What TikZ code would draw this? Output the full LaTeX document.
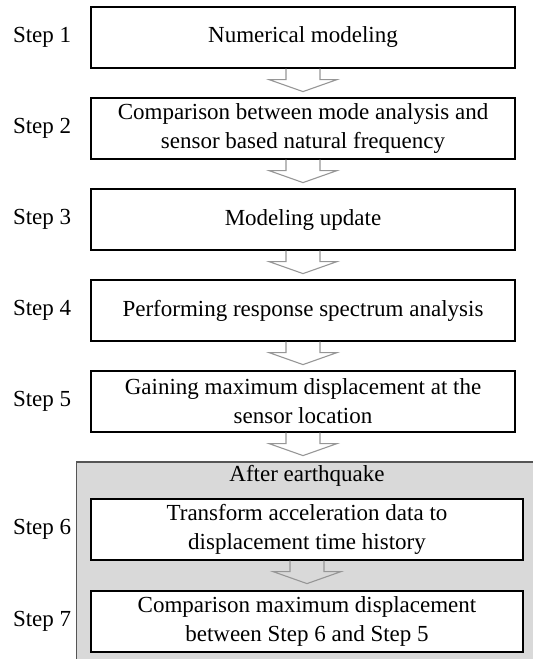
\documentclass[tikz,border=0pt]{standalone}
\usepackage{fontspec}
\setmainfont{Liberation Serif}
\usepackage{tikz}
\usetikzlibrary{positioning,calc}
\definecolor{zonegray}{RGB}{217,217,217}
\definecolor{zoneline}{RGB}{85,85,85}
\definecolor{arrowgray}{RGB}{150,150,150}

% hollow block arrow below a box
\newcommand{\stepArrow}[2]{%
  \draw[hollow] ($(#1.south)+(-17pt,0)$) -- ++(0,-11pt) -- ++(-17pt,0)
    -- ($(#1.south)!23pt!(#1.south|-#2.north)$)
    -- ($(#1.south)+(34pt,-11pt)$) -- ++(-17pt,0) -- ++(0,11pt);}

\begin{document}
\begin{tikzpicture}[
    font=\fontsize{23}{29}\selectfont,
    stepbox/.style={rectangle, draw, line width=1.2pt, fill=white, minimum width=424pt, minimum height=61pt, align=center, inner sep=1pt},
    widebox/.style={stepbox, minimum width=432pt},
    steplabel/.style={inner sep=0pt, anchor=east},
    hollow/.style={draw=arrowgray, line width=1.1pt, line join=miter}
  ]
    \useasboundingbox (0,0) rectangle (533pt,-659pt);

    % after earthquake zone
    \coordinate (zoneNW) at (76.5pt,-462pt);
    \coordinate (zoneSE) at (560pt,-680pt);
    \draw[fill=zonegray, draw=zoneline, line width=1.5pt] (zoneNW) rectangle (zoneSE);

    \node[stepbox] (box1) at (303pt,-37.5pt) {Numerical modeling};
    \node[stepbox, below=28.8pt of box1] (box2) {Comparison between mode analysis and\\sensor based natural frequency};
    \node[stepbox, below=28.8pt of box2] (box3) {Modeling update};
    \node[stepbox, below=28.8pt of box3] (box4) {Performing response spectrum analysis};
    \node[stepbox, below=28.8pt of box4] (box5) {Gaining maximum displacement at the\\sensor location};
    \node[widebox, below=65.8pt of box5, xshift=4pt] (box6) {Transform acceleration data to\\displacement time history};
    \node[widebox, below=29.8pt of box6] (box7) {Comparison maximum displacement\\between Step 6 and Step 5};

    \node[above=12pt of box6, inner sep=0pt] (quake) {After earthquake};

    \node[steplabel, left=19pt of box1] (s1) {Step 1};
    \node[steplabel, left=19pt of box2] (s2) {Step 2};
    \node[steplabel, left=19pt of box3] (s3) {Step 3};
    \node[steplabel, left=19pt of box4] (s4) {Step 4};
    \node[steplabel, left=19pt of box5] (s5) {Step 5};
    \node[steplabel, left=19pt of box6] (s6) {Step 6};
    \node[steplabel, left=19pt of box7] (s7) {Step 7};

    \stepArrow{box1}{box2}
    \stepArrow{box2}{box3}
    \stepArrow{box3}{box4}
    \stepArrow{box4}{box5}
    \stepArrow{box5}{box6}
    \stepArrow{box6}{box7}
  \end{tikzpicture}
\end{document}
